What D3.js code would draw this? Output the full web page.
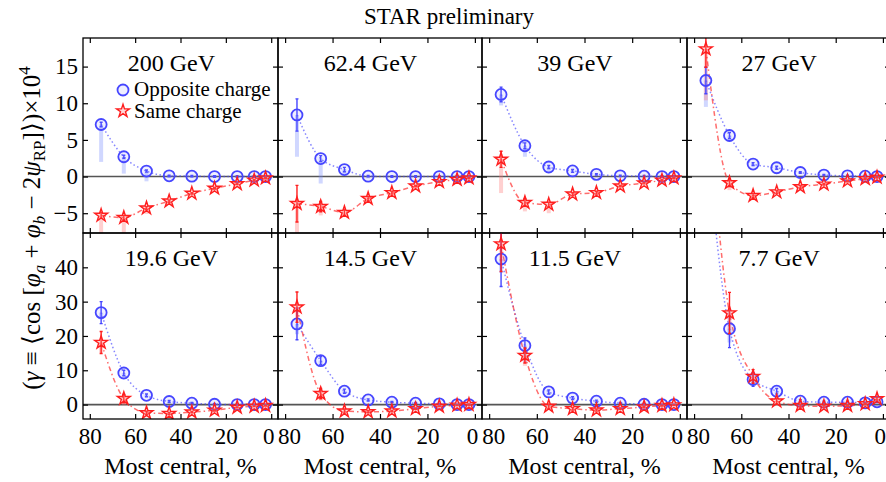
<!DOCTYPE html>
<meta charset="utf-8">
<style>
body { margin: 0; background: #fff; }
.tick line { stroke: #000; stroke-width: 1.2; }
</style>
<body>
<script src="https://d3js.org/d3.v7.min.js"></script>
<script>

var width = 886,
    height = 482;

var serif = "'Liberation Serif', 'Times New Roman', serif";

// centrality bins (%) and panel labels
var centrality = [75, 65, 55, 45, 35, 25, 15, 7.5, 2.5];
var energies = ["200 GeV", "62.4 GeV", "39 GeV", "27 GeV", "19.6 GeV", "14.5 GeV", "11.5 GeV", "7.7 GeV"];

// opposite charge: values, stat errors, systematic (downward) extent
var oppValues = [
    [7.1, 2.7, 0.75, 0.1, 0.05, 0, 0, 0, 0],
    [8.4, 2.45, 0.95, 0.05, 0, 0, 0, 0, 0],
    [11.2, 4.2, 1.3, 0.77, 0.3, 0.1, 0.05, 0, 0],
    [13.1, 5.6, 1.7, 1.2, 0.55, 0.2, 0.1, 0.05, 0],
    [26.8, 9.2, 2.7, 0.9, 0.4, 0.1, 0, 0, 0],
    [23.5, 12.8, 3.9, 1.35, 0.7, 0.4, 0.2, 0, 0],
    [42.4, 17.2, 3.7, 1.9, 1.0, 0.4, 0.1, 0, 0],
    [80, 22.1, 7.3, 3.9, 1.0, 0.7, 0.7, 0.5, 0.8]];
var oppStat = [
    [0.3, 0.2, 0.15, 0.1, 0.1, 0.1, 0.1, 0.1, 0.1],
    [2.2, 0.4, 0.3, 0.1, 0.1, 0.1, 0.1, 0.1, 0.1],
    [1.0, 0.4, 0.2, 0.2, 0.1, 0.1, 0.1, 0.1, 0.1],
    [1.8, 0.4, 0.2, 0.2, 0.1, 0.1, 0.1, 0.1, 0.1],
    [3.2, 0.8, 0.4, 0.3, 0.2, 0.2, 0.1, 0.1, 0.1],
    [4.6, 1.2, 0.6, 0.3, 0.2, 0.2, 0.1, 0.1, 0.1],
    [8.0, 2.2, 0.6, 0.4, 0.3, 0.2, 0.2, 0.1, 0.1],
    [10, 5.5, 2.0, 0.8, 0.4, 0.3, 0.2, 0.2, 0.2]];
var oppSys = [
    [5.1, 2.3, 1.4, 0.3, 0.2, 0.1, 0.1, 0.1, 0.1],
    [5.7, 3.4, 0.6, 0.3, 0.2, 0.1, 0.1, 0.1, 0.1],
    [1.5, 1.5, 0.5, 0.3, 0.2, 0.1, 0.1, 0.1, 0.1],
    [3.6, 0.8, 0.3, 0.3, 0.2, 0.1, 0.1, 0.1, 0.1],
    [2.0, 1.0, 0.6, 0.4, 0.3, 0.2, 0.2, 0.2, 0.2],
    [3.0, 1.5, 0.6, 0.4, 0.3, 0.2, 0.2, 0.2, 0.2],
    [4.0, 5.0, 0.8, 0.5, 0.3, 0.2, 0.2, 0.2, 0.2],
    [6.0, 4.0, 1.5, 0.6, 0.4, 0.3, 0.3, 0.3, 0.3]];

// same charge: values, stat errors, systematic (downward) extent
var sameValues = [
    [-5.3, -5.6, -4.3, -3.35, -2.3, -1.6, -1.0, -0.5, -0.2],
    [-3.7, -4.1, -4.9, -3.0, -2.2, -1.3, -0.7, -0.4, -0.2],
    [2.35, -3.55, -3.8, -2.4, -2.2, -1.3, -0.9, -0.5, -0.2],
    [17.4, -0.85, -2.6, -2.1, -1.4, -1.05, -0.6, -0.3, -0.1],
    [18.1, 1.75, -2.4, -2.6, -2.2, -1.65, -0.8, -0.5, -0.3],
    [28.4, 3.2, -1.9, -2.1, -1.9, -1.2, -0.5, -0.2, 0],
    [46.8, 14.3, -0.5, -1.2, -1.6, -1.2, -0.7, -0.3, -0.1],
    [95, 26.7, 8.2, 1.0, -0.3, -0.5, -0.3, 0.2, 1.7]];
var sameStat = [
    [0.4, 0.3, 0.2, 0.15, 0.1, 0.1, 0.1, 0.1, 0.1],
    [2.5, 0.7, 0.4, 0.3, 0.2, 0.1, 0.1, 0.1, 0.1],
    [1.1, 0.5, 0.3, 0.2, 0.2, 0.1, 0.1, 0.1, 0.1],
    [2.5, 0.5, 0.3, 0.2, 0.2, 0.1, 0.1, 0.1, 0.1],
    [3.2, 1.2, 0.5, 0.3, 0.2, 0.2, 0.1, 0.1, 0.1],
    [4.4, 1.5, 0.6, 0.3, 0.2, 0.2, 0.1, 0.1, 0.1],
    [8.0, 2.2, 0.6, 0.4, 0.3, 0.2, 0.2, 0.1, 0.1],
    [10, 6.0, 2.0, 0.8, 0.4, 0.3, 0.2, 0.2, 0.4]];
var sameSys = [
    [3.0, 2.5, 0.8, 0.4, 0.3, 0.2, 0.1, 0.1, 0.1],
    [4.0, 1.2, 0.5, 0.3, 0.2, 0.1, 0.1, 0.1, 0.1],
    [4.6, 1.2, 1.2, 0.3, 0.2, 0.1, 0.1, 0.1, 0.1],
    [7.0, 1.0, 0.5, 0.3, 0.2, 0.1, 0.1, 0.1, 0.1],
    [3.0, 2.0, 0.6, 0.4, 0.3, 0.2, 0.2, 0.2, 0.2],
    [4.0, 2.0, 0.6, 0.4, 0.3, 0.2, 0.2, 0.2, 0.2],
    [5.0, 3.0, 0.8, 0.5, 0.3, 0.2, 0.2, 0.2, 0.2],
    [6.0, 5.0, 2.0, 0.6, 0.4, 0.3, 0.3, 0.3, 0.3]];

var xTicks = [0, 20, 40, 60, 80];
var yTicksTop = [-5, 0, 5, 10, 15];
var yTicksBottom = [0, 10, 20, 30, 40];

// panel geometry
var colEdges = [[83, 278], [278, 482], [482, 687], [687, 890]];
var rowEdges = [[38, 233], [233, 419]];
var yDomains = [[-7.7, 18.9], [-4.2, 50]];

var blue = "rgb(70,70,255)",
    red = "rgb(255,30,30)";

var svg = d3.select("body").append("svg")
    .attr("width", width)
    .attr("height", height);

var defs = svg.append("defs");
var star = d3.symbol().type(d3.symbolStar).size(52);

energies.forEach(function(label, i) {
    var row = Math.floor(i / 4), col = i % 4;
    var x0 = colEdges[col][0], x1 = colEdges[col][1];
    var y0 = rowEdges[row][0], y1 = rowEdges[row][1];

    var x = d3.scaleLinear().domain([83, -3]).range([x0, x1]);
    var y = d3.scaleLinear().domain(yDomains[row]).range([y1, y0]);
    var yTicks = row == 0 ? yTicksTop : yTicksBottom;

    var g = svg.append("g");

    defs.append("clipPath").attr("id", "clip" + i)
        .append("rect")
        .attr("x", x0).attr("y", y0)
        .attr("width", x1 - x0).attr("height", y1 - y0);

    var plot = g.append("g").attr("clip-path", "url(#clip" + i + ")");

    // zero line
    plot.append("line")
        .attr("x1", x0).attr("x2", x1)
        .attr("y1", y(0)).attr("y2", y(0))
        .attr("stroke", "#555")
        .attr("stroke-width", 1.6);

    var series = [
        {vals: oppValues[i], stat: oppStat[i], sys: oppSys[i], color: blue, sysColor: "rgba(120,140,255,0.35)", dash: "1.5,2.5"},
        {vals: sameValues[i], stat: sameStat[i], sys: sameSys[i], color: red, sysColor: "rgba(255,120,120,0.35)", dash: "5,3,1.5,3"}
    ];

    series.forEach(function(s) {
        var pts = centrality.map(function(c, k) {
            return {c: c, v: s.vals[k], e: s.stat[k], sy: s.sys[k]};
        });

        // systematic bars
        plot.append("g").selectAll("rect")
            .data(pts)
            .enter()
            .append("rect")
            .attr("x", function(d) { return x(d.c) - 2; })
            .attr("width", 4)
            .attr("y", function(d) { return y(d.v); })
            .attr("height", function(d) { return y(d.v - d.sy) - y(d.v); })
            .attr("fill", s.sysColor);

        // connecting curve
        plot.append("path")
            .datum(pts)
            .attr("fill", "none")
            .attr("stroke", s.color)
            .attr("stroke-opacity", 0.65)
            .attr("stroke-width", 1.5)
            .attr("stroke-dasharray", s.dash)
            .attr("d", d3.line()
                .curve(d3.curveMonotoneX)
                .x(function(d) { return x(d.c); })
                .y(function(d) { return y(d.v); }));
    });

    series.forEach(function(s, si) {
        var pts = centrality.map(function(c, k) {
            return {c: c, v: s.vals[k], e: s.stat[k]};
        });

        // stat error bars
        var eb = plot.append("g").attr("stroke", s.color).attr("stroke-width", 1.4);
        eb.selectAll(".bar")
            .data(pts)
            .enter()
            .append("path")
            .attr("fill", "none")
            .attr("d", function(d) {
                var xc = x(d.c), ya = y(d.v + d.e), yb = y(d.v - d.e);
                return "M" + xc + "," + ya + "V" + yb +
                    "M" + (xc - 1.5) + "," + ya + "H" + (xc + 1.5) +
                    "M" + (xc - 1.5) + "," + yb + "H" + (xc + 1.5);
            });

        // markers
        if (si == 0) {
            plot.append("g").selectAll("circle")
                .data(pts)
                .enter()
                .append("circle")
                .attr("cx", function(d) { return x(d.c); })
                .attr("cy", function(d) { return y(d.v); })
                .attr("r", 5.5)
                .attr("fill", "rgba(120,120,255,0.12)")
                .attr("stroke", s.color)
                .attr("stroke-width", 1.8);
        } else {
            plot.append("g").selectAll("path.star")
                .data(pts)
                .enter()
                .append("path")
                .attr("transform", function(d) { return "translate(" + x(d.c) + "," + y(d.v) + ")"; })
                .attr("d", star)
                .attr("fill", "rgba(255,120,120,0.3)")
                .attr("stroke", s.color)
                .attr("stroke-width", 1.4);
        }
    });

    // axes, ticks pointing inward on all sides
    var bottomAxis = d3.axisBottom(x).tickValues(xTicks).tickSizeInner(-5).tickSizeOuter(0).tickPadding(9)
        .tickFormat(row == 1 ? d3.format("d") : "");
    var topAxis = d3.axisTop(x).tickValues(xTicks).tickSizeInner(-5).tickSizeOuter(0).tickFormat("");
    var leftAxis = d3.axisLeft(y).tickValues(yTicks).tickSizeInner(-5).tickSizeOuter(0).tickPadding(5)
        .tickFormat(col == 0 ? d3.format("d") : "");
    var rightAxis = d3.axisRight(y).tickValues(yTicks).tickSizeInner(-5).tickSizeOuter(0).tickFormat("");

    var gb = g.append("g").attr("transform", "translate(0," + y1 + ")").call(bottomAxis);
    g.append("g").attr("transform", "translate(0," + y0 + ")").call(topAxis);
    g.append("g").attr("transform", "translate(" + x0 + ",0)").call(leftAxis);
    g.append("g").attr("transform", "translate(" + x1 + ",0)").call(rightAxis);
    g.selectAll(".domain").remove();
    g.selectAll(".tick text")
        .style("font-family", serif)
        .style("font-size", "23px")
        .style("fill", "#000");

    // neighbouring "0" and "80" labels meet at the panel joins
    gb.selectAll(".tick text")
        .attr("dx", function(d) {
            if (d == 0) return -3;
            if (d == 80 && col > 0) return 4;
            return 0;
        });
    if (col == 3) {
        gb.selectAll(".tick text")
            .filter(function(d) { return d == 0; })
            .attr("text-anchor", "end")
            .attr("dx", 0)
            .attr("x", width - x(0) - 0.5);
    }

    // frame
    g.append("rect")
        .attr("x", x0).attr("y", y0)
        .attr("width", x1 - x0).attr("height", y1 - y0)
        .attr("fill", "none")
        .attr("stroke", "#000")
        .attr("stroke-width", 1.3);

    // energy label
    g.append("text")
        .attr("x", x(44))
        .attr("y", y0 + 33)
        .attr("text-anchor", "middle")
        .style("font-family", serif)
        .style("font-size", "24px")
        .text(label);

    if (row == 1) {
        g.append("text")
            .attr("x", (x0 + Math.min(x1, width)) / 2 + (col == 3 ? 2 : 0))
            .attr("y", 474)
            .attr("text-anchor", "middle")
            .style("font-family", serif)
            .style("font-size", "24px")
            .text("Most central, %");
    }
});

// legend in the first panel
var legend = svg.append("g");
legend.append("circle")
    .attr("cx", 123).attr("cy", 90).attr("r", 5.5)
    .attr("fill", "rgba(120,120,255,0.12)")
    .attr("stroke", blue).attr("stroke-width", 1.8);
legend.append("text").attr("x", 134).attr("y", 96)
    .style("font-family", serif).style("font-size", "21px")
    .text("Opposite charge");
legend.append("path")
    .attr("transform", "translate(123,111)")
    .attr("d", star)
    .attr("fill", "rgba(255,120,120,0.3)")
    .attr("stroke", red).attr("stroke-width", 1.4);
legend.append("text").attr("x", 134).attr("y", 118)
    .style("font-family", serif).style("font-size", "21px")
    .text("Same charge");

// title
svg.append("text")
    .attr("x", 449).attr("y", 24)
    .attr("text-anchor", "middle")
    .style("font-family", serif)
    .style("font-size", "23px")
    .text("STAR preliminary");

// y label
var yl = svg.append("text")
    .attr("transform", "translate(40,228) rotate(-90)")
    .attr("text-anchor", "middle")
    .style("font-family", serif)
    .style("font-size", "25px");
yl.append("tspan").text("(");
yl.append("tspan").attr("font-style", "italic").text("γ");
yl.append("tspan").text(" ≡ ⟨cos [");
yl.append("tspan").attr("font-style", "italic").text("φ");
yl.append("tspan").attr("font-style", "italic").attr("font-size", 17).attr("dy", 5).text("a");
yl.append("tspan").attr("dy", -5).text(" + ");
yl.append("tspan").attr("font-style", "italic").text("φ");
yl.append("tspan").attr("font-style", "italic").attr("font-size", 17).attr("dy", 5).text("b");
yl.append("tspan").attr("dy", -5).text(" − 2");
yl.append("tspan").attr("font-style", "italic").text("ψ");
yl.append("tspan").attr("font-size", 17).attr("dy", 5).text("RP");
yl.append("tspan").attr("dy", -5).text("]⟩)×10");
yl.append("tspan").attr("font-size", 17).attr("dy", -10).text("4");

</script>
</body>
